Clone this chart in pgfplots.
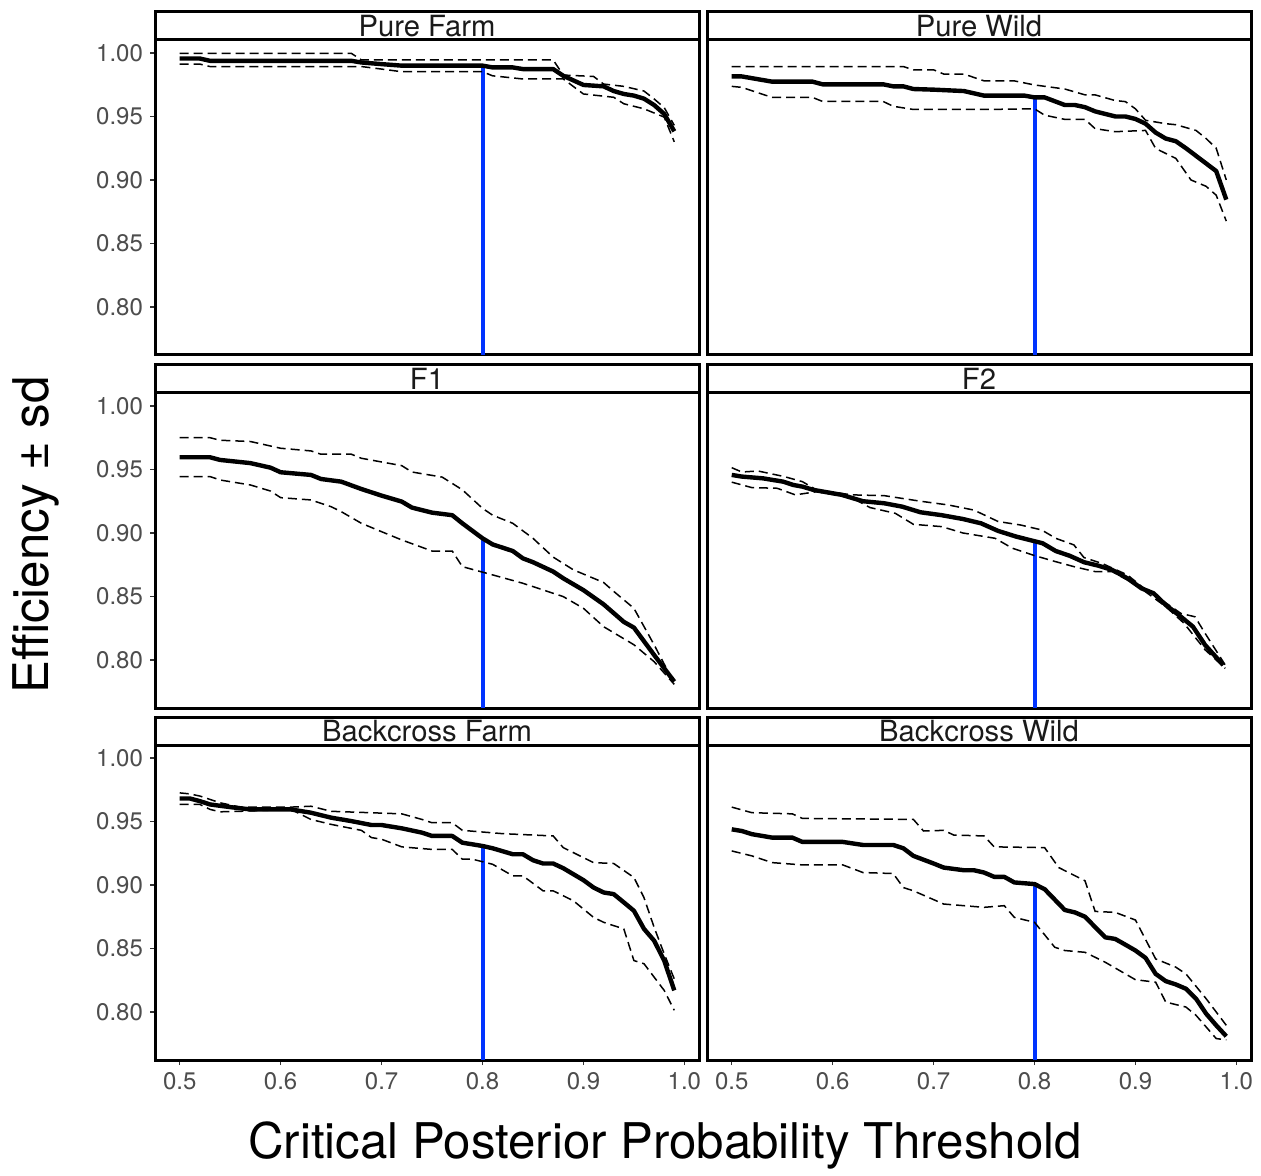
\documentclass[border=0pt]{standalone}
\usepackage{pgfplots}
\pgfplotsset{compat=1.18}
\usepackage{fontspec}
\setmainfont{TeX Gyre Heros}
\definecolor{tickgray}{HTML}{4D4D4D}
\definecolor{tickmark}{HTML}{333333}
\definecolor{vblue}{RGB}{0,51,255}
\definecolor{striptext}{HTML}{1A1A1A}
\pgfplotsset{
  panel/.style={
    scale only axis, width=272pt, height=157.5pt,
    xmin=0.4755, xmax=1.0145, ymin=0.7622, ymax=1.0102,
    axis line style={line width=1.5pt, black},
    anchor=south west,
    tick align=outside, tick pos=left,
    major tick length=2.5pt,
    tick style={tickmark, line width=0.6pt},
    xtick=\empty, ytick=\empty,
    ticklabel style={font=\fontsize{12}{14}\selectfont, text=tickgray},
    /pgf/number format/assume math mode=true,
  },
  xt/.style={xtick={0.5,0.6,0.7,0.8,0.9,1.0},
    xticklabel style={/pgf/number format/.cd,fixed,fixed zerofill,precision=1}},
  yt/.style={ytick={0.80,0.85,0.90,0.95,1.00},
    yticklabel style={/pgf/number format/.cd,fixed,fixed zerofill,precision=2}},
  meanl/.style={black, line width=2.2pt, line join=round},
  sdl/.style={black, line width=0.75pt, dash pattern=on 4.5pt off 2.5pt},
  bluel/.style={vblue, line width=2pt},
}
\newcommand{\strip}[2]{%
  \draw[line width=1.5pt, fill=white] (#1.north west) rectangle ([yshift=14pt]#1.north east);
  \node[anchor=base, inner sep=0pt, font=\fontsize{14.6}{16}\selectfont, text=striptext] at ([yshift=1.8pt]#1.north) {#2};
}
\begin{document}
\begin{tikzpicture}
\path (0,0) rectangle (630.5pt,586.5pt);
% ---------- Pure Farm
\begin{axis}[panel, yt, name=pf, at={(77.5pt,409pt)}]
\addplot[bluel] coordinates {(0.8,0.7622) (0.8,0.990)};
\addplot[sdl] coordinates {(0.50,0.9997)(0.67,0.9997)(0.68,0.9945)(0.87,0.9945)(0.88,0.9826)(0.91,0.9815)(0.92,0.9755)(0.94,0.9737)(0.96,0.970)(0.97,0.9638)(0.98,0.957)(0.99,0.943)};
\addplot[sdl] coordinates {(0.50,0.9912)(0.52,0.9912)(0.53,0.9893)(0.68,0.9893)(0.70,0.9873)(0.72,0.9852)(0.80,0.9852)(0.81,0.982)(0.84,0.9795)(0.88,0.9795)(0.90,0.9677)(0.93,0.9651)(0.94,0.960)(0.96,0.956)(0.98,0.9495)(0.99,0.930)};
\addplot[meanl] coordinates {(0.50,0.9956)(0.52,0.9956)(0.53,0.9938)(0.67,0.9938)(0.68,0.9925)(0.70,0.9912)(0.72,0.990)(0.80,0.990)(0.81,0.9886)(0.83,0.9886)(0.84,0.9873)(0.87,0.9873)(0.88,0.982)(0.90,0.9748)(0.92,0.9737)(0.93,0.970)(0.94,0.9677)(0.95,0.9664)(0.96,0.964)(0.97,0.959)(0.98,0.952)(0.99,0.9383)};
\end{axis}
\strip{pf}{Pure Farm}
% ---------- Pure Wild
\begin{axis}[panel, name=pw, at={(353.5pt,409pt)}]
\addplot[bluel] coordinates {(0.8,0.7622) (0.8,0.965)};
\addplot[sdl] coordinates {(0.50,0.9893)(0.67,0.9893)(0.68,0.9867)(0.70,0.9867)(0.71,0.9834)(0.73,0.9834)(0.75,0.978)(0.78,0.978)(0.80,0.9748)(0.83,0.9716)(0.85,0.967)(0.86,0.967)(0.88,0.9625)(0.89,0.9617)(0.90,0.956)(0.91,0.947)(0.93,0.9443)(0.94,0.9435)(0.96,0.939)(0.97,0.9326)(0.98,0.925)(0.99,0.900)};
\addplot[sdl] coordinates {(0.50,0.9737)(0.51,0.9729)(0.54,0.965)(0.58,0.965)(0.59,0.9618)(0.65,0.9618)(0.66,0.958)(0.68,0.9555)(0.75,0.9555)(0.80,0.956)(0.81,0.951)(0.83,0.9477)(0.85,0.9477)(0.86,0.9404)(0.88,0.938)(0.91,0.939)(0.92,0.9248)(0.94,0.917)(0.955,0.900)(0.97,0.895)(0.98,0.888)(0.99,0.8676)};
\addplot[meanl] coordinates {(0.50,0.9815)(0.51,0.9815)(0.54,0.9774)(0.58,0.9774)(0.59,0.9753)(0.65,0.9753)(0.66,0.9737)(0.67,0.9737)(0.68,0.9716)(0.70,0.9711)(0.73,0.970)(0.75,0.9664)(0.79,0.9664)(0.80,0.965)(0.81,0.965)(0.83,0.959)(0.84,0.959)(0.85,0.9573)(0.86,0.954)(0.87,0.952)(0.88,0.950)(0.89,0.950)(0.90,0.948)(0.91,0.9443)(0.92,0.9373)(0.93,0.9326)(0.94,0.9305)(0.95,0.925)(0.96,0.919)(0.97,0.913)(0.98,0.907)(0.99,0.8845)};
\end{axis}
\strip{pw}{Pure Wild}
% ---------- F1
\begin{axis}[panel, yt, name=fa, at={(77.5pt,232.5pt)}]
\addplot[bluel] coordinates {(0.8,0.7622) (0.8,0.8958)};
\addplot[sdl] coordinates {(0.50,0.975)(0.53,0.975)(0.54,0.973)(0.57,0.972)(0.60,0.9667)(0.63,0.9646)(0.64,0.962)(0.67,0.962)(0.68,0.9588)(0.72,0.953)(0.73,0.948)(0.76,0.944)(0.78,0.934)(0.80,0.9194)(0.81,0.914)(0.83,0.9076)(0.85,0.8958)(0.87,0.881)(0.89,0.871)(0.92,0.861)(0.93,0.854)(0.95,0.8407)(0.97,0.812)(0.99,0.7816)};
\addplot[sdl] coordinates {(0.50,0.9444)(0.53,0.9444)(0.54,0.9417)(0.57,0.9378)(0.59,0.933)(0.60,0.9278)(0.63,0.926)(0.65,0.9207)(0.66,0.9168)(0.68,0.9076)(0.70,0.901)(0.72,0.8945)(0.75,0.8858)(0.77,0.8858)(0.78,0.8735)(0.81,0.867)(0.84,0.8604)(0.88,0.8499)(0.90,0.8407)(0.92,0.8262)(0.95,0.812)(0.97,0.7987)(0.99,0.7808)};
\addplot[meanl] coordinates {(0.50,0.9596)(0.53,0.9596)(0.54,0.9575)(0.57,0.955)(0.59,0.9514)(0.60,0.9478)(0.63,0.9457)(0.64,0.9425)(0.66,0.9404)(0.68,0.9346)(0.70,0.9294)(0.72,0.9247)(0.73,0.920)(0.75,0.916)(0.77,0.914)(0.78,0.9076)(0.80,0.8958)(0.81,0.891)(0.83,0.8858)(0.84,0.880)(0.85,0.877)(0.87,0.8696)(0.88,0.8643)(0.90,0.855)(0.92,0.8438)(0.94,0.830)(0.95,0.8255)(0.97,0.804)(0.99,0.783)};
\end{axis}
\strip{fa}{F1}
% ---------- F2
\begin{axis}[panel, name=fb, at={(353.5pt,232.5pt)}]
\addplot[bluel] coordinates {(0.8,0.7622) (0.8,0.8935)};
\addplot[sdl] coordinates {(0.50,0.9514)(0.51,0.948)(0.526,0.9488)(0.552,0.9444)(0.57,0.9404)(0.584,0.9339)(0.619,0.930)(0.651,0.9294)(0.687,0.925)(0.715,0.922)(0.74,0.918)(0.764,0.909)(0.786,0.9063)(0.807,0.9024)(0.821,0.8958)(0.839,0.8906)(0.849,0.8806)(0.867,0.876)(0.892,0.867)(0.906,0.858)(0.93,0.845)(0.945,0.8367)(0.959,0.834)(0.969,0.821)(0.989,0.796)};
\addplot[sdl] coordinates {(0.50,0.940)(0.52,0.9357)(0.545,0.9352)(0.563,0.930)(0.584,0.9325)(0.619,0.9278)(0.637,0.920)(0.662,0.9155)(0.68,0.9068)(0.708,0.905)(0.729,0.90)(0.761,0.8958)(0.778,0.888)(0.80,0.8822)(0.821,0.8774)(0.839,0.8735)(0.86,0.8696)(0.877,0.8696)(0.892,0.863)(0.906,0.856)(0.93,0.842)(0.948,0.829)(0.969,0.808)(0.989,0.7934)};
\addplot[meanl] coordinates {(0.500,0.9457)(0.510,0.9444)(0.531,0.943)(0.551,0.9404)(0.561,0.9378)(0.570,0.9365)(0.581,0.9339)(0.609,0.930)(0.630,0.925)(0.651,0.9234)(0.669,0.9207)(0.687,0.9163)(0.708,0.914)(0.729,0.911)(0.747,0.9076)(0.764,0.9016)(0.782,0.8971)(0.800,0.8935)(0.808,0.8919)(0.821,0.8858)(0.835,0.882)(0.849,0.877)(0.863,0.8743)(0.877,0.8709)(0.892,0.8643)(0.906,0.8564)(0.918,0.8525)(0.930,0.8433)(0.945,0.8341)(0.957,0.8262)(0.969,0.8118)(0.987,0.7960)};
\end{axis}
\strip{fb}{F2}
% ---------- Backcross Farm
\begin{axis}[panel, xt, yt, name=bf, at={(77.5pt,56.5pt)}]
\addplot[bluel] coordinates {(0.8,0.7622) (0.8,0.9307)};
\addplot[sdl] coordinates {(0.50,0.9725)(0.51,0.9717)(0.52,0.970)(0.54,0.9647)(0.56,0.9613)(0.61,0.9613)(0.63,0.962)(0.65,0.958)(0.72,0.956)(0.74,0.9516)(0.75,0.949)(0.77,0.949)(0.78,0.943)(0.82,0.9404)(0.87,0.9386)(0.88,0.9294)(0.91,0.9176)(0.93,0.9169)(0.95,0.9059)(0.96,0.890)(0.97,0.8667)(0.98,0.8458)(0.99,0.826)};
\addplot[sdl] coordinates {(0.50,0.9634)(0.52,0.9634)(0.53,0.9595)(0.54,0.9576)(0.56,0.958)(0.61,0.9595)(0.63,0.9516)(0.65,0.9477)(0.68,0.943)(0.69,0.9373)(0.70,0.936)(0.72,0.930)(0.75,0.928)(0.77,0.928)(0.78,0.9203)(0.79,0.9203)(0.81,0.9163)(0.83,0.9072)(0.84,0.9072)(0.86,0.8954)(0.87,0.8954)(0.89,0.8876)(0.91,0.8745)(0.92,0.8706)(0.94,0.8654)(0.95,0.8405)(0.96,0.838)(0.98,0.817)(0.99,0.8013)};
\addplot[meanl] coordinates {(0.50,0.9681)(0.51,0.9681)(0.52,0.966)(0.53,0.9634)(0.55,0.9613)(0.57,0.9595)(0.61,0.9595)(0.63,0.9569)(0.65,0.953)(0.67,0.9503)(0.69,0.9472)(0.70,0.9472)(0.72,0.9446)(0.74,0.9412)(0.75,0.9386)(0.77,0.9386)(0.78,0.9333)(0.80,0.9307)(0.81,0.9289)(0.83,0.9242)(0.84,0.9242)(0.85,0.9195)(0.86,0.9169)(0.87,0.9169)(0.88,0.9132)(0.89,0.9085)(0.90,0.9038)(0.91,0.898)(0.92,0.8941)(0.93,0.8928)(0.94,0.8863)(0.95,0.8797)(0.96,0.8654)(0.97,0.8562)(0.98,0.8405)(0.99,0.817)};
\end{axis}
\strip{bf}{Backcross Farm}
% ---------- Backcross Wild
\begin{axis}[panel, xt, name=bw, at={(353.5pt,56.5pt)}]
\addplot[bluel] coordinates {(0.8,0.7622) (0.8,0.9007)};
\addplot[sdl] coordinates {(0.50,0.9613)(0.52,0.9569)(0.56,0.956)(0.57,0.9524)(0.68,0.9516)(0.69,0.9425)(0.71,0.943)(0.72,0.9393)(0.75,0.9386)(0.76,0.930)(0.81,0.9294)(0.824,0.9137)(0.85,0.9033)(0.86,0.8792)(0.88,0.8784)(0.90,0.8724)(0.92,0.8418)(0.94,0.8353)(0.95,0.830)(0.97,0.8105)(0.99,0.7895)};
\addplot[sdl] coordinates {(0.50,0.9268)(0.52,0.9229)(0.54,0.9176)(0.57,0.9158)(0.61,0.9158)(0.63,0.9098)(0.66,0.909)(0.67,0.898)(0.68,0.8954)(0.71,0.885)(0.75,0.8824)(0.77,0.8837)(0.78,0.8745)(0.80,0.8706)(0.82,0.851)(0.83,0.8484)(0.85,0.847)(0.87,0.8392)(0.90,0.8254)(0.92,0.8235)(0.93,0.8078)(0.95,0.8039)(0.96,0.7974)(0.98,0.7791)(0.99,0.778)};
\addplot[meanl] coordinates {(0.50,0.9438)(0.51,0.9425)(0.52,0.940)(0.54,0.9373)(0.56,0.9373)(0.57,0.9339)(0.61,0.9339)(0.63,0.9315)(0.66,0.9315)(0.67,0.9289)(0.68,0.9229)(0.70,0.9169)(0.71,0.9137)(0.73,0.9116)(0.74,0.9116)(0.75,0.9098)(0.76,0.9064)(0.77,0.9064)(0.78,0.902)(0.80,0.9007)(0.81,0.8967)(0.83,0.8803)(0.84,0.8784)(0.85,0.875)(0.87,0.8588)(0.88,0.8575)(0.89,0.853)(0.90,0.8484)(0.91,0.8426)(0.92,0.830)(0.93,0.8243)(0.94,0.8217)(0.95,0.8183)(0.96,0.8105)(0.97,0.7987)(0.98,0.7895)(0.99,0.7809)};
\end{axis}
\strip{bw}{Backcross Wild}
% ---------- axis titles
\node[rotate=90, font=\fontsize{24.6}{28}\selectfont] at (18pt,319pt) {Efficiency ± sd};
\node[font=\fontsize{24.6}{28}\selectfont] at (332.5pt,14pt) {Critical Posterior Probability Threshold};
\end{tikzpicture}
\end{document}
